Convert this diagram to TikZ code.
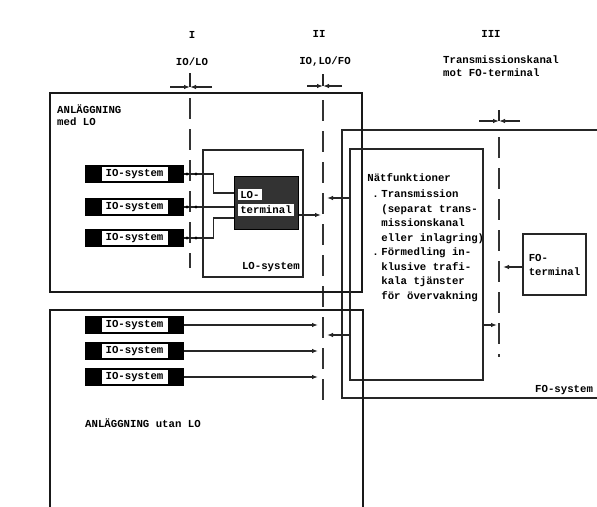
\documentclass[tikz,border=0pt]{standalone}
\usepackage{fontspec}
\setmonofont{Liberation Mono}
\usetikzlibrary{arrows.meta}

\setlength{\fboxsep}{2pt}
\newcommand{\iolabel}{\colorbox{white}{\makebox[62pt]{IO-system}}}
\newcommand{\natitem}{\makebox[14pt][l]{\hspace{5pt}.}}
\newcommand{\natcont}{\hspace*{14pt}}

\begin{document}
\begin{tikzpicture}[
    x=1pt, y=-1pt,
    >={Latex[length=6pt, width=4.5pt]},
    every node/.style={font=\ttfamily\bfseries\fontsize{10.7}{14.5}\selectfont, inner sep=0pt},
    bigbox/.style={line width=2.6pt, color=black!90},
    sysbox/.style={line width=2pt, color=black!85},
    losys/.style={line width=1.4pt, color=black!85},
    funcbox/.style={draw=black!85, line width=1.6pt},
    conn/.style={line width=1.2pt, color=black!85},
    dashedline/.style={line width=1.8pt, color=black!80, dash pattern=on 21pt off 10pt},
    iobox/.style={fill=black, minimum width=99pt, minimum height=18pt},
    loterm/.style={fill=black!80, draw=black, line width=1pt, minimum width=64pt, minimum height=53pt, align=left},
    twoline/.style={align=left, font=\ttfamily\bfseries\fontsize{10.7}{12.5}\selectfont}
]

    % Frame
    \clip (0,0) rectangle (597,506);
    \fill[white] (0,0) rectangle (597,506);

    % Interface names
    \node (lab I) at (192,35) {I};
    \node (lab II) at (319,34) {II};
    \node (lab III) at (491,34) {III};
    \node (if I) at (192,62) {IO/LO};
    \node (if II) at (325,62) {IO,LO/FO};
    \node[twoline, anchor=west] (if III) at (443,66) {Transmissionskanal\\mot FO-terminal};

    % Interface I
    \coordinate (I top) at (190,73);
    \coordinate (I mid) at (190,87);
    \draw[conn] (I top) -- (I mid);
    \draw[conn, ->] ([xshift=-20pt]I mid) -- (I mid);
    \draw[conn, ->] ([xshift=22pt]I mid) -- (I mid);
    \draw[dashedline] (190,98) -- (190,268);

    % Interface II
    \coordinate (II top) at (323,74);
    \coordinate (II mid) at (323,86);
    \draw[conn] (II top) -- (II mid);
    \draw[conn, ->] ([xshift=-16pt]II mid) -- (II mid);
    \draw[conn, ->] ([xshift=19pt]II mid) -- (II mid);
    \draw[dashedline] (323,100) -- (323,402);

    % Interface III
    \coordinate (III top) at (499,110);
    \coordinate (III mid) at (499,121);
    \draw[conn] (III top) -- (III mid);
    \draw[conn, ->] ([xshift=-20pt]III mid) -- (III mid);
    \draw[conn, ->] ([xshift=21pt]III mid) -- (III mid);
    \draw[dashedline] (499,137) -- (499,357);

    % FO-system
    \draw[sysbox] (342,130) rectangle (640,398);
    \node[anchor=west] (fo sys) at (535,390) {FO-system};

    % Anlaggning med LO
    \draw[bigbox] (50,93) rectangle (362,292);
    \node[twoline, anchor=west] (anl med) at (57,115) {ANLÄGGNING\\med LO};

    % LO-system
    \draw[losys] (203,150) rectangle (303,277);
    \node[anchor=east] (lo sys) at (300,267) {LO-system};
    \node[loterm] (lo term) at (266,202.5) {\colorbox{white}{LO-}\\[1pt]\colorbox{white}{terminal}};

    % IO-systems with LO
    \node[iobox] (io a) at (134.5,174) {\iolabel};
    \node[iobox] (io b) at (134.5,207) {\iolabel};
    \node[iobox] (io c) at (134.5,238) {\iolabel};

    \draw[conn] (io a.east) -- ++(29,0) |- ([yshift=9.5pt]lo term.west);
    \draw[conn] (io b.east) -- (io b.east -| lo term.west);
    \draw[conn] (io c.east) -- ++(29,0) |- ([yshift=-15.5pt]lo term.west);
    \fill (187,174) circle (1.6); \fill (196,174) circle (1.6);
    \fill (187,207) circle (1.6); \fill (196,207) circle (1.6);
    \fill (187,238) circle (1.6); \fill (196,238) circle (1.6);

    \coordinate (II lo) at (321,215);
    \draw[conn, ->] (lo term.east |- II lo) -- (II lo);

    % Natfunktioner
    \node[funcbox, minimum width=133pt, minimum height=231pt] (nat) at (416.5,264.5) {};
    \node[anchor=north west, align=left] (nat text) at ([xshift=18pt, yshift=-25pt]nat.north west)
        {Nätfunktioner\\[2pt]
         \natitem Transmission\\
         \natcont (separat trans-\\
         \natcont missionskanal\\
         \natcont eller inlagring)\\
         \natitem Förmedling in-\\
         \natcont klusive trafi-\\
         \natcont kala tjänster\\
         \natcont för övervakning};

    \coordinate (II nat a) at (327,198);
    \coordinate (II nat b) at (327,335);
    \coordinate (III nat) at (497,325);
    \draw[conn, ->] (nat.west |- II nat a) -- (II nat a);
    \draw[conn, ->] (nat.west |- II nat b) -- (II nat b);
    \draw[conn, ->] (nat.east |- III nat) -- (III nat);

    % FO-terminal
    \node[funcbox, minimum width=63pt, minimum height=61pt, twoline, font=\ttfamily\bfseries\fontsize{10.7}{14}\selectfont] (fo term) at (554.5,264.5) {FO-\\terminal};
    \coordinate (III fo) at (503,267);
    \draw[conn, ->] (fo term.west |- III fo) -- (III fo);

    % Anlaggning utan LO
    \draw[bigbox] (50,310) rectangle (363,540);
    \node[anchor=west] (anl utan) at (85,423) {ANLÄGGNING utan LO};

    \node[iobox] (io d) at (134.5,325) {\iolabel};
    \node[iobox] (io e) at (134.5,351) {\iolabel};
    \node[iobox] (io f) at (134.5,377) {\iolabel};

    \coordinate (II in) at (318,0);
    \draw[conn, ->] (io d.east) -- (io d.east -| II in);
    \draw[conn, ->] (io e.east) -- (io e.east -| II in);
    \draw[conn, ->] (io f.east) -- (io f.east -| II in);

\end{tikzpicture}
\end{document}
